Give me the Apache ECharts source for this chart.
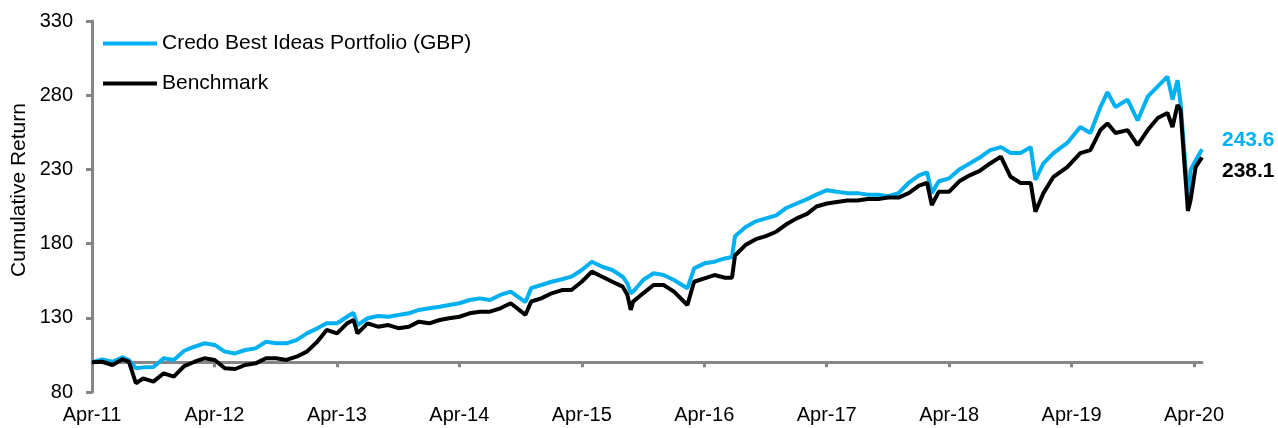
<!DOCTYPE html>
<html>
<head>
<meta charset="utf-8">
<script src="https://cdn.jsdelivr.net/npm/echarts@6/dist/echarts.min.js"></script>
<style>
html,body{margin:0;padding:0;background:#fff;}
#chart{width:1278px;height:428px;}
</style>
</head>
<body>
<div id="chart"></div>
<script>
// ---- data ----
const seriesNames = ['Credo Best Ideas Portfolio (GBP)', 'Benchmark'];
const dates = [
 '2011-04-01','2011-05-01','2011-06-01','2011-07-01','2011-07-20','2011-08-10','2011-09-01','2011-10-01','2011-11-01','2011-12-01',
 '2012-01-01','2012-02-01','2012-03-01','2012-04-01','2012-05-01','2012-06-01','2012-07-01','2012-08-01','2012-09-01','2012-10-01','2012-11-01','2012-12-01',
 '2013-01-01','2013-02-01','2013-03-01','2013-04-01','2013-05-01','2013-05-20','2013-06-01','2013-07-01','2013-08-01','2013-09-01','2013-10-01','2013-11-01','2013-12-01',
 '2014-01-01','2014-02-01','2014-03-01','2014-04-01','2014-05-01','2014-06-01','2014-07-01','2014-08-01','2014-09-01','2014-10-15','2014-11-01','2014-12-01',
 '2015-01-01','2015-02-01','2015-03-01','2015-04-01','2015-05-01','2015-06-01','2015-07-01','2015-08-01','2015-08-15','2015-08-25','2015-09-01','2015-10-01','2015-11-01','2015-12-01',
 '2016-01-01','2016-02-10','2016-03-01','2016-04-01','2016-05-01','2016-06-01','2016-06-22','2016-07-01','2016-08-01','2016-09-01','2016-10-01','2016-11-01','2016-12-01',
 '2017-01-01','2017-02-01','2017-03-01','2017-04-01','2017-05-01','2017-06-01','2017-07-01','2017-08-01','2017-09-01','2017-10-01','2017-11-01','2017-12-01',
 '2018-01-01','2018-01-25','2018-02-08','2018-03-01','2018-04-01','2018-05-01','2018-06-01','2018-07-01','2018-08-01',
 '2018-09-02','2018-10-01','2018-10-31','2018-11-30','2018-12-14','2019-01-07','2019-02-06','2019-03-19',
 '2019-04-27','2019-05-27','2019-06-26','2019-07-17','2019-08-10','2019-09-15','2019-10-15','2019-11-14','2019-12-14',
 '2020-01-12','2020-01-27','2020-02-11','2020-02-20','2020-03-13','2020-03-21','2020-04-05','2020-04-24'
];
const portfolio = [
 100,102,100.4,103.4,101.5,96,96.6,96.8,102.7,101.6,
 107.8,110.5,112.8,111.7,107.2,106,108.3,109.4,113.9,112.8,112.8,115,
 119.5,122.9,126.3,126.3,130.7,133.4,125.1,129.7,131.2,130.7,131.9,133,135.3,
 136.4,137.5,138.6,139.8,142,143.1,142,145.4,147.6,140.6,150,152.1,
 154.3,156,157.7,162.2,167.8,164.4,162.2,157.7,153.2,146.5,147.6,155.5,160,158.8,
 155.5,149.9,163.3,166.7,167.8,170,171,185,191,195,197,199,204,
 207,210,213,216,215,214,214,213,213,212,214,221,
 226,228,214,222,224,230,234,238,243,
 245,241,241,245,223,234,241,247.8,
 258.6,254.5,272,282,272,277,263,279,286,
 292.5,277,290,275,210,229.6,236,243.6
];
const benchmark = [
 100,100.4,98.2,102,100.5,85.9,89.2,87,92.6,90.3,
 97.5,100.4,102.7,101.6,96,95.5,98.2,99.3,102.7,102.7,101.6,103.8,
 107.2,113.9,121.8,119.5,126.3,128.5,119.5,126.3,124,125.1,123,124,127.4,
 126.3,128.5,129.7,130.7,133,134.1,134.1,136.4,139.8,132,141,143.1,
 146.5,148.7,148.7,154.3,161.1,157.7,154.3,151,145.4,135.3,140.9,146.5,152.1,152.1,
 147.6,138.6,154.3,156.6,158.8,157,157,172,179,183,185,188,193,
 197,200,205,207,208,209,209,210,210,211,211,214,
 219,221,206,215,215,222,226,229,234,
 238.6,225,220.8,220.8,201.5,214,225,231.6,
 241,243,256.5,261,254.5,256.5,246.4,256.5,264.6,
 268,258.6,273.4,270,202,209.4,231.6,238.1
];
const yTicks = [80,130,180,230,280,330];
const xTickLabels = ['Apr-11','Apr-12','Apr-13','Apr-14','Apr-15','Apr-16','Apr-17','Apr-18','Apr-19','Apr-20'];

// ---- helpers ----
const origin = Date.UTC(2011,3,1);
function yearsFrom(d){ const p=d.split('-').map(Number); return (Date.UTC(p[0],p[1]-1,p[2])-origin)/(365.25*86400000); }
const xs = dates.map(yearsFrom);
const xMax = xs[xs.length-1];
const labelIdx = xTickLabels.map((_,i)=>i);
const tickIdx = xTickLabels.map((_,i)=>i).filter(i=>i>0);

const FONT = 'Liberation Sans, Arial, sans-serif';
const AXIS_COLOR = '#868686';
const BLUE = '#00B0F0';
const BLACK = '#000000';

const chart = echarts.init(document.getElementById('chart'), null, {renderer:'canvas'});
const yMin = yTicks[0], yMax = yTicks[yTicks.length-1];
const plotH = 392-21;
const offsetAt100 = -(100 - yMin) / (yMax - yMin) * plotH;

chart.setOption({
  animation:false,
  backgroundColor:'#fff',
  textStyle:{fontFamily:FONT},
  grid:{left:92,right:76,top:21,bottom:36,containLabel:false},
  legend:{
    orient:'vertical', left:103, top:33, padding:0, itemWidth:54, itemHeight:4, itemGap:19,
    icon:'rect',
    textStyle:{fontSize:21, color:'#000', fontFamily:FONT, lineHeight:21},
    data:seriesNames
  },
  graphic:[{
    type:'text', x:19, y:190, rotation:Math.PI/2,
    style:{text:'Cumulative Return', font:'21px '+FONT, fill:'#000', align:'center', verticalAlign:'middle'}
  }],
  xAxis:[{
    type:'value', min:0, max:xMax, position:'bottom',
    axisLine:{show:false}, axisTick:{show:false}, splitLine:{show:false},
    axisLabel:{customValues:labelIdx, formatter:v=>xTickLabels[Math.round(v)], fontSize:20, color:'#000', fontFamily:FONT, margin:13}
  },{
    type:'value', min:0, max:xMax, position:'bottom', offset:offsetAt100,
    axisLine:{show:true, lineStyle:{color:AXIS_COLOR, width:3}},
    axisTick:{show:true, customValues:tickIdx, length:5, lineStyle:{color:AXIS_COLOR, width:3}},
    axisLabel:{show:false}, splitLine:{show:false}
  }],
  yAxis:{
    type:'value', min:yMin, max:yMax, interval:50,
    axisLine:{show:true, lineStyle:{color:AXIS_COLOR, width:3}},
    axisTick:{show:true, length:6, lineStyle:{color:AXIS_COLOR, width:3}},
    splitLine:{show:false},
    axisLabel:{fontSize:20, color:'#000', fontFamily:FONT, margin:19}
  },
  series:[{
    name:seriesNames[0], type:'line', xAxisIndex:0, showSymbol:false, symbol:'none',
    data:xs.map((x,i)=>[x,portfolio[i]]),
    lineStyle:{color:BLUE, width:4}, itemStyle:{color:BLUE},
    endLabel:{show:true, formatter:p=>p.value[1].toFixed(1), color:BLUE, fontSize:21, fontWeight:'bold', fontFamily:FONT, distance:20, offset:[0,-9]},
    z:2
  },{
    name:seriesNames[1], type:'line', xAxisIndex:0, showSymbol:false, symbol:'none',
    data:xs.map((x,i)=>[x,benchmark[i]]),
    lineStyle:{color:BLACK, width:4}, itemStyle:{color:BLACK},
    endLabel:{show:true, formatter:p=>p.value[1].toFixed(1), color:BLACK, fontSize:21, fontWeight:'bold', fontFamily:FONT, distance:20, offset:[0,14]},
    z:3
  }]
});
</script>
</body>
</html>
